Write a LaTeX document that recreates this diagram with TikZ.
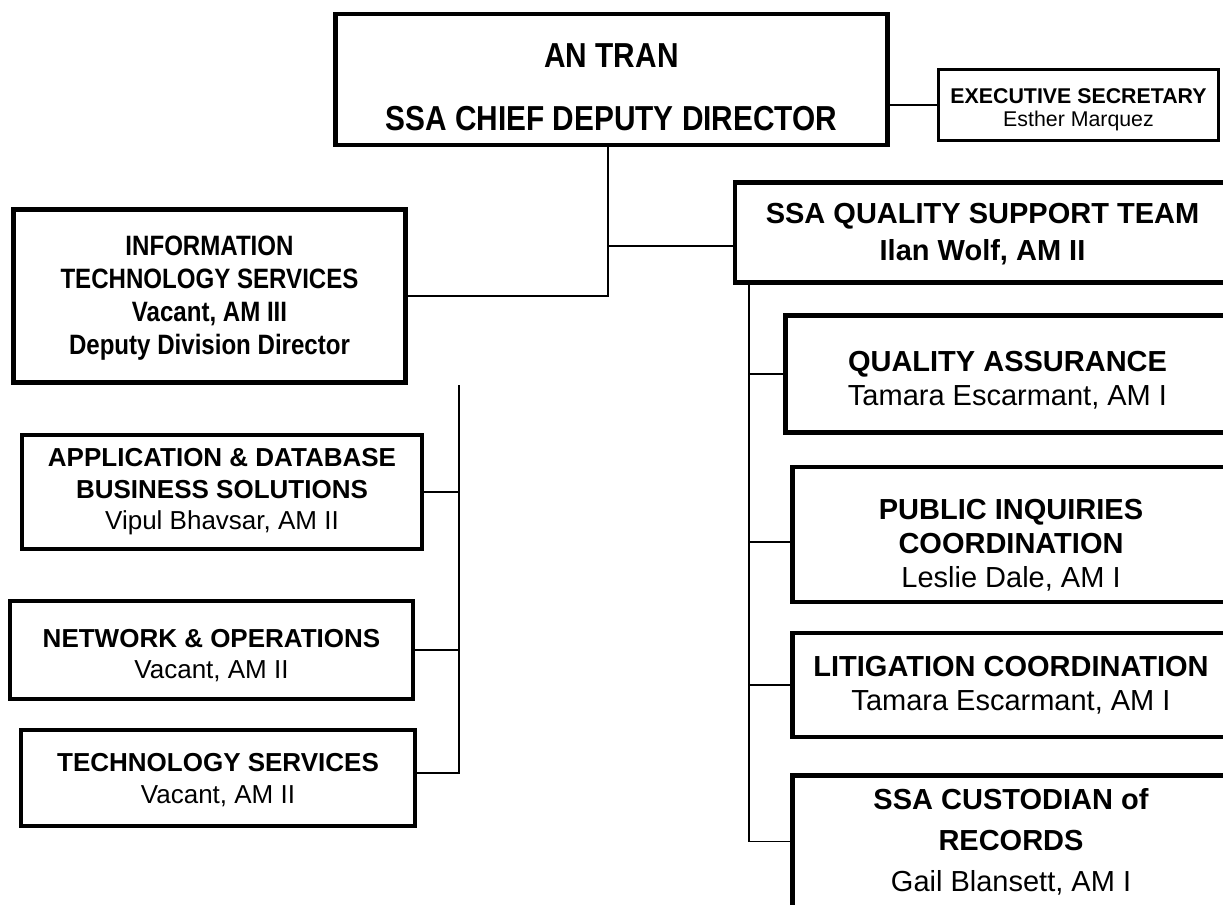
\documentclass[tikz,border=0pt]{standalone}
\usepackage{fontspec}
\setmainfont{Liberation Sans}
\newfontfamily\narrowsans{Liberation Sans}[FakeStretch=0.86]
\newcommand{\lowerby}[1]{\rule{0pt}{#1}}

\tikzset{
	unit/.style={draw, line width=3pt, align=center, inner sep=0pt},
	link/.style={line width=0.9pt},
	headfont/.style={font=\narrowsans\bfseries\fontsize{26}{47}\selectfont},
	divfont/.style={font=\narrowsans\bfseries\fontsize{21}{24.75}\selectfont},
	teamfont/.style={font=\fontsize{21.75}{25.5}\selectfont},
	sectfont/.style={font=\fontsize{19.5}{23.6}\selectfont},
	secfont/.style={font=\fontsize{16}{17.25}\selectfont}
}

\begin{document}
\begin{tikzpicture}[x=0.75pt, y=-0.75pt]
	\clip (0,0) rectangle (1223,904);

	% top of the chart
	\node[unit, headfont, line width=3.4pt, minimum width=414pt, minimum height=98pt]
		(dir) at (611.5,79.5) {\lowerby{29.4pt}AN TRAN\\SSA CHIEF DEPUTY DIRECTOR};
	\node[unit, secfont, line width=2.25pt, minimum width=210pt, minimum height=53pt]
		(sec) at (1078.5,105) {\lowerby{17.6pt}\textbf{EXECUTIVE SECRETARY}\\Esther Marquez};

	% left side
	\node[unit, divfont, line width=3.75pt, minimum width=294pt, minimum height=130pt]
		(its) at (209.5,296) {\lowerby{18pt}INFORMATION\\TECHNOLOGY SERVICES\\Vacant, AM III\\Deputy Division Director};
	\node[unit, sectfont, minimum width=300pt, minimum height=85.5pt]
		(app) at (222,492) {\textbf{APPLICATION \& DATABASE}\\\textbf{BUSINESS SOLUTIONS}\\Vipul Bhavsar, AM II};
	\node[unit, sectfont, minimum width=302pt, minimum height=73.5pt]
		(net) at (211.5,650) {\lowerby{21.6pt}\textbf{NETWORK \& OPERATIONS}\\Vacant, AM II};
	\node[unit, sectfont, minimum width=295.5pt, minimum height=72pt]
		(tech) at (218,778) {\lowerby{16.5pt}\textbf{TECHNOLOGY SERVICES}\\Vacant, AM II};

	% right side
	\node[unit, teamfont, line width=3.4pt, minimum width=371pt, minimum height=75pt, font=\bfseries\fontsize{21.75}{27.75}\selectfont]
		(qst) at (982.5,232.5) {\lowerby{18pt}SSA QUALITY SUPPORT TEAM\\Ilan Wolf, AM II};
	\node[unit, teamfont, line width=3.4pt, minimum width=333pt, minimum height=88pt]
		(qa) at (1007.5,374) {\lowerby{24.9pt}\textbf{QUALITY ASSURANCE}\\Tamara Escarmant, AM I};
	\node[unit, teamfont, line width=3.4pt, minimum width=328pt, minimum height=101pt]
		(pic) at (1011,534.5) {\lowerby{30.9pt}\textbf{PUBLIC INQUIRIES}\\\textbf{COORDINATION}\\Leslie Dale, AM I};
	\node[unit, teamfont, line width=3.4pt, minimum width=328pt, minimum height=78pt]
		(lit) at (1011,685) {\textbf{LITIGATION COORDINATION}\\Tamara Escarmant, AM I};
	\node[unit, teamfont, line width=3.4pt, minimum width=328pt, minimum height=99pt, font=\fontsize{21.75}{30.75}\selectfont]
		(cust) at (1011,841.5) {\textbf{SSA CUSTODIAN of}\\\textbf{RECORDS}\\Gail Blansett, AM I};

	% connectors
	\coordinate (mid) at (608,246);
	\coordinate (lspine) at (459,385);
	\coordinate (rspine) at (749,285);
	\draw[link] (dir.east |- sec.west) -- (sec.west);
	\draw[link] (dir.south -| mid) |- (its.east);
	\draw[link] (mid) -- (mid -| qst.west);
	\draw[link] (lspine) |- ([yshift=3.75pt]tech.east);
	\foreach \b in {app, net}
		\draw[link] (lspine |- \b.east) -- (\b.east);
	\draw[link] (rspine) |- (cust.west);
	\foreach \b in {qa, lit}
		\draw[link] (rspine |- \b.west) -- (\b.west);
	\draw[link] (rspine |- 0,542) -- (pic.west |- 0,542);
\end{tikzpicture}
\end{document}
